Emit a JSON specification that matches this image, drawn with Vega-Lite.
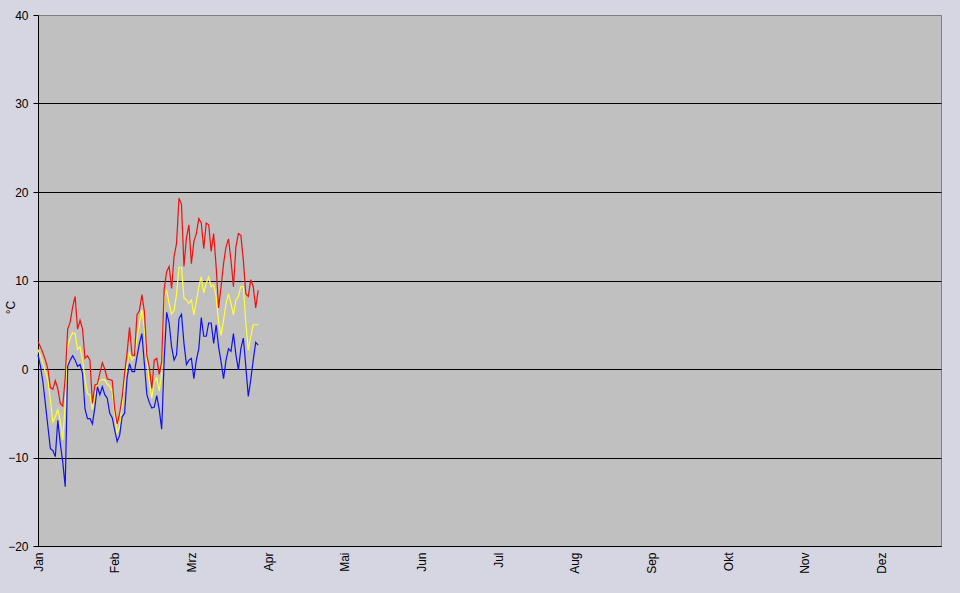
{
  "$schema": "https://vega.github.io/schema/vega-lite/v6.json",
  "autosize": "none",
  "width": 903,
  "height": 531,
  "padding": {"left": 38, "top": 15, "right": 19, "bottom": 47},
  "background": "#d6d6e2",
  "config": {
    "view": {"stroke": "#808080", "strokeWidth": 1, "fill": "#c0c0c0"},
    "font": "Liberation Sans",
    "axis": {"labelFont": "Liberation Sans", "titleFont": "Liberation Sans", "labelColor": "#000000", "titleColor": "#000000"}
  },
  "data": {
    "values": [
      {"day": 1, "tmax": 3.1, "tmean": 2.2, "tmin": 1.6},
      {"day": 2, "tmax": 2.5, "tmean": 1.5, "tmin": 0.3},
      {"day": 3, "tmax": 1.8, "tmean": 0.6, "tmin": -1.5},
      {"day": 4, "tmax": 1.0, "tmean": -0.3, "tmin": -4.0},
      {"day": 5, "tmax": 0.0, "tmean": -1.2, "tmin": -6.5},
      {"day": 6, "tmax": -2.1, "tmean": -3.5, "tmin": -9.0},
      {"day": 7, "tmax": -2.3, "tmean": -6.0, "tmin": -9.2},
      {"day": 8, "tmax": -1.3, "tmean": -5.4, "tmin": -9.9},
      {"day": 9, "tmax": -2.2, "tmean": -4.6, "tmin": -5.8},
      {"day": 10, "tmax": -3.9, "tmean": -5.8, "tmin": -8.4},
      {"day": 11, "tmax": -4.2, "tmean": -8.0, "tmin": -10.5},
      {"day": 12, "tmax": -1.0, "tmean": -3.9, "tmin": -13.3},
      {"day": 13, "tmax": 4.5, "tmean": 2.5, "tmin": 0.3},
      {"day": 14, "tmax": 5.3, "tmean": 3.5, "tmin": 1.0},
      {"day": 15, "tmax": 7.0, "tmean": 4.1, "tmin": 1.5},
      {"day": 16, "tmax": 8.2, "tmean": 4.0, "tmin": 1.0},
      {"day": 17, "tmax": 4.5, "tmean": 2.2, "tmin": 0.3},
      {"day": 18, "tmax": 5.5, "tmean": 2.5, "tmin": 0.5},
      {"day": 19, "tmax": 4.5, "tmean": 1.0, "tmin": -0.5},
      {"day": 20, "tmax": 1.2, "tmean": -1.0, "tmin": -4.5},
      {"day": 21, "tmax": 1.5, "tmean": -2.8, "tmin": -5.6},
      {"day": 22, "tmax": 1.0, "tmean": -2.9, "tmin": -5.6},
      {"day": 23, "tmax": -3.9, "tmean": -4.6, "tmin": -6.2},
      {"day": 24, "tmax": -1.8, "tmean": -2.9, "tmin": -4.3},
      {"day": 25, "tmax": -1.7, "tmean": -1.8, "tmin": -2.0},
      {"day": 26, "tmax": -0.5, "tmean": -1.3, "tmin": -2.9},
      {"day": 27, "tmax": 0.7, "tmean": -1.2, "tmin": -2.0},
      {"day": 28, "tmax": 0.0, "tmean": -1.2, "tmin": -2.9},
      {"day": 29, "tmax": -1.1, "tmean": -1.7, "tmin": -3.3},
      {"day": 30, "tmax": -1.2, "tmean": -2.0, "tmin": -5.0},
      {"day": 31, "tmax": -1.3, "tmean": -2.5, "tmin": -5.5},
      {"day": 32, "tmax": -4.5, "tmean": -5.0, "tmin": -6.9},
      {"day": 33, "tmax": -6.2, "tmean": -7.2, "tmin": -8.2},
      {"day": 34, "tmax": -5.0, "tmean": -6.5, "tmin": -7.5},
      {"day": 35, "tmax": -3.2, "tmean": -4.0, "tmin": -5.4},
      {"day": 36, "tmax": -0.5, "tmean": -1.5, "tmin": -5.0},
      {"day": 37, "tmax": 1.8, "tmean": 0.5, "tmin": -1.0},
      {"day": 38, "tmax": 4.7, "tmean": 1.8, "tmin": 0.6},
      {"day": 39, "tmax": 1.6, "tmean": 1.0, "tmin": -0.3},
      {"day": 40, "tmax": 1.5, "tmean": 1.4, "tmin": -0.3},
      {"day": 41, "tmax": 6.1, "tmean": 3.5, "tmin": 1.4},
      {"day": 42, "tmax": 6.6, "tmean": 5.0, "tmin": 2.9},
      {"day": 43, "tmax": 8.4, "tmean": 6.7, "tmin": 4.0},
      {"day": 44, "tmax": 6.5, "tmean": 4.5, "tmin": 0.6},
      {"day": 45, "tmax": 1.5, "tmean": 1.0, "tmin": -2.9},
      {"day": 46, "tmax": 0.2, "tmean": -1.5, "tmin": -3.8},
      {"day": 47, "tmax": -2.2, "tmean": -3.3, "tmin": -4.4},
      {"day": 48, "tmax": 1.0, "tmean": -1.5, "tmin": -4.3},
      {"day": 49, "tmax": 1.2, "tmean": -1.0, "tmin": -3.0},
      {"day": 50, "tmax": -0.6, "tmean": -2.5, "tmin": -4.6},
      {"day": 51, "tmax": 0.8, "tmean": -0.5, "tmin": -6.8},
      {"day": 52, "tmax": 9.0, "tmean": 8.0, "tmin": 1.0},
      {"day": 53, "tmax": 11.0, "tmean": 8.9, "tmin": 6.4},
      {"day": 54, "tmax": 11.6, "tmean": 7.4, "tmin": 5.2},
      {"day": 55, "tmax": 9.1, "tmean": 6.2, "tmin": 2.5},
      {"day": 56, "tmax": 12.7, "tmean": 6.6, "tmin": 1.0},
      {"day": 57, "tmax": 14.2, "tmean": 8.4, "tmin": 1.6},
      {"day": 58, "tmax": 19.3, "tmean": 11.5, "tmin": 5.7},
      {"day": 59, "tmax": 18.6, "tmean": 11.5, "tmin": 6.2},
      {"day": 60, "tmax": 11.6, "tmean": 8.0, "tmin": 2.9},
      {"day": 61, "tmax": 14.8, "tmean": 7.8, "tmin": 0.5},
      {"day": 62, "tmax": 16.3, "tmean": 7.4, "tmin": 1.0},
      {"day": 63, "tmax": 11.9, "tmean": 7.8, "tmin": 1.2},
      {"day": 64, "tmax": 14.4, "tmean": 6.1, "tmin": -1.1},
      {"day": 65, "tmax": 15.3, "tmean": 7.6, "tmin": 1.0},
      {"day": 66, "tmax": 17.0, "tmean": 9.3, "tmin": 2.3},
      {"day": 67, "tmax": 16.5, "tmean": 10.4, "tmin": 5.8},
      {"day": 68, "tmax": 13.6, "tmean": 8.6, "tmin": 3.7},
      {"day": 69, "tmax": 16.5, "tmean": 9.7, "tmin": 3.7},
      {"day": 70, "tmax": 16.3, "tmean": 10.4, "tmin": 5.2},
      {"day": 71, "tmax": 13.3, "tmean": 9.3, "tmin": 5.2},
      {"day": 72, "tmax": 15.3, "tmean": 9.5, "tmin": 2.9},
      {"day": 73, "tmax": 11.6, "tmean": 8.2, "tmin": 5.0},
      {"day": 74, "tmax": 6.9, "tmean": 5.3, "tmin": 2.5},
      {"day": 75, "tmax": 9.3, "tmean": 3.8, "tmin": 0.8},
      {"day": 76, "tmax": 11.9, "tmean": 5.5, "tmin": -1.1},
      {"day": 77, "tmax": 13.8, "tmean": 7.4, "tmin": 1.0},
      {"day": 78, "tmax": 14.7, "tmean": 8.5, "tmin": 2.3},
      {"day": 79, "tmax": 12.3, "tmean": 7.4, "tmin": 2.0},
      {"day": 80, "tmax": 9.3, "tmean": 6.1, "tmin": 4.0},
      {"day": 81, "tmax": 13.8, "tmean": 7.8, "tmin": 1.6},
      {"day": 82, "tmax": 15.3, "tmean": 8.2, "tmin": -0.1},
      {"day": 83, "tmax": 15.1, "tmean": 9.3, "tmin": 2.3},
      {"day": 84, "tmax": 12.3, "tmean": 9.3, "tmin": 3.5},
      {"day": 85, "tmax": 8.5, "tmean": 5.2, "tmin": 0.3},
      {"day": 86, "tmax": 8.2, "tmean": 2.1, "tmin": -3.1},
      {"day": 87, "tmax": 10.1, "tmean": 3.7, "tmin": -1.2},
      {"day": 88, "tmax": 9.3, "tmean": 5.0, "tmin": 1.0},
      {"day": 89, "tmax": 6.9, "tmean": 5.0, "tmin": 3.0},
      {"day": 90, "tmax": 8.9, "tmean": 5.0, "tmin": 2.7}
    ]
  },
  "transform": [
    {"fold": ["tmean", "tmax", "tmin"], "as": ["series", "value"]}
  ],
  "mark": {"type": "line", "strokeWidth": 1.2, "interpolate": "linear"},
  "encoding": {
    "x": {
      "field": "day",
      "type": "quantitative",
      "scale": {"domain": [1, 366], "nice": false, "zero": false},
      "axis": {
        "title": null,
        "values": [1, 32, 63, 94, 125, 156, 187, 218, 249, 280, 311, 342],
        "labelExpr": "['Jan','Feb','Mrz','Apr','Mai','Jun','Jul','Aug','Sep','Okt','Nov','Dez'][round((datum.value - 1) / 31)]",
        "labelAngle": 270,
        "labelAlign": "right",
        "labelBaseline": "middle",
        "labelPadding": 6,
        "labelFontSize": 12,
        "labelOverlap": false,
        "labelBound": false,
        "labelFlush": false,
        "ticks": false,
        "grid": false,
        "domainColor": "#000000",
        "domainWidth": 1
      }
    },
    "y": {
      "field": "value",
      "type": "quantitative",
      "scale": {"domain": [-20, 40], "nice": false, "zero": false},
      "axis": {
        "title": "°C",
        "titleFontSize": 12,
        "titleFontWeight": "normal",
        "titleAngle": 270,
        "titleX": -28,
        "titleY": 292,
        "titleAlign": "center",
        "titleBaseline": "middle",
        "values": [-20, -10, 0, 10, 20, 30, 40],
        "labelFontSize": 12,
        "labelPadding": 5,
        "tickSize": 5,
        "tickColor": "#000000",
        "domainColor": "#000000",
        "grid": true,
        "gridColor": {"condition": {"test": "datum.value == 40", "value": "#808080"}, "value": "#000000"},
        "gridOpacity": 1,
        "gridWidth": 1
      }
    },
    "color": {
      "field": "series",
      "type": "nominal",
      "scale": {"domain": ["tmean", "tmax", "tmin"], "range": ["#ffff33", "#ee1111", "#1111ee"]},
      "legend": null
    },
    "order": {"field": "day"}
  }
}
